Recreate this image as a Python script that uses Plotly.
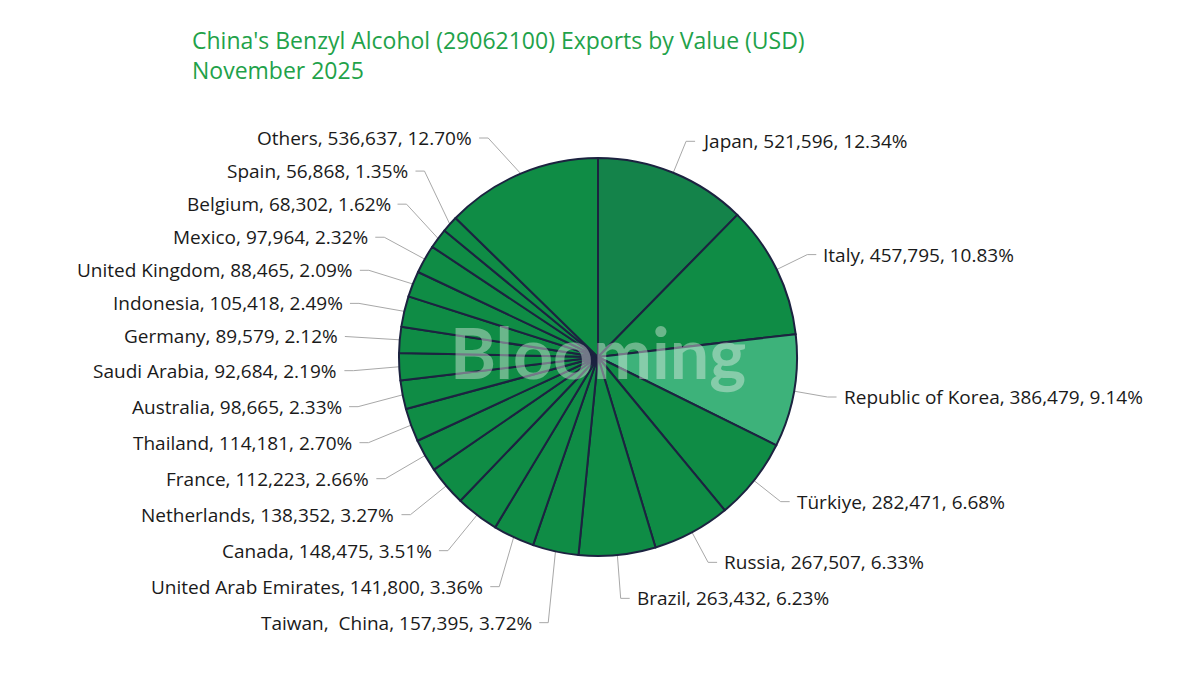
import math
import plotly.graph_objects as go

# ---------------- data ----------------
countries = ["Japan", "Italy", "Republic of Korea", "Türkiye", "Russia", "Brazil",
             "Taiwan,\u00a0 China", "United Arab Emirates", "Canada", "Netherlands",
             "France", "Thailand", "Australia", "Saudi Arabia", "Germany", "Indonesia",
             "United Kingdom", "Mexico", "Belgium", "Spain", "Others"]
values = [521596, 457795, 386479, 282471, 267507, 263432, 157395, 141800, 148475,
          138352, 112223, 114181, 98665, 92684, 89579, 105418, 88465, 97964, 68302,
          56868, 536637]
shares = [12.34, 10.83, 9.14, 6.68, 6.33, 6.23, 3.72, 3.36, 3.51, 3.27, 2.66, 2.70,
          2.33, 2.19, 2.12, 2.49, 2.09, 2.32, 1.62, 1.35, 12.70]

title_line1 = "China's Benzyl Alcohol (29062100) Exports by Value (USD)"
title_line2 = "November 2025"

# ---------------- style ----------------
W, H = 1200, 674
cx, cy, r = 598, 357, 199
BASE = "#0f8c45"
slice_colors = [BASE] * len(values)
slice_colors[0] = "#14834a"   # Japan
slice_colors[2] = "#3db27a"   # Korea
BORDER = "#1c2340"
LEADER = "#a8a8a8"
TXT = "#1a1a1a"
FONT = "Open Sans"
FS = 19

R0 = 233        # natural label radius
GAP = 36        # min vertical spacing of labels
YMIN, YMAX = 138, 640
RS = {-1: 245, 1: 233}
LEN2 = 9
TGAP = 5

labels_txt = [f"{c}, {v:,}, {s:.2f}%" for c, v, s in zip(countries, values, shares)]

# ---------------- label layout (computed from data) ----------------
total = float(sum(values))
items = []
acc = 0.0
for i, v in enumerate(values):
    mid = (acc + v / 2) / total * 2 * math.pi
    acc += v
    sx, sy = math.sin(mid), -math.cos(mid)
    items.append(dict(i=i, sx=sx, sy=sy,
                      nx=cx + R0 * sx, ny=cy + R0 * sy,
                      side=1 if sx >= 0 else -1))

def layout_side(its):
    for it in its:
        it["y"] = it["ny"]
    upper = sorted([t for t in its if t["ny"] < cy], key=lambda d: -d["ny"])
    lower = sorted([t for t in its if t["ny"] >= cy], key=lambda d: d["ny"])
    if upper and lower and lower[0]["y"] - upper[0]["y"] < GAP:
        d = (GAP - (lower[0]["y"] - upper[0]["y"])) / 2
        upper[0]["y"] -= d
        lower[0]["y"] += d
    for k in range(1, len(upper)):
        upper[k]["y"] = min(upper[k]["y"], upper[k - 1]["y"] - GAP)
    for k in range(1, len(lower)):
        lower[k]["y"] = max(lower[k]["y"], lower[k - 1]["y"] + GAP)
    if upper and upper[-1]["y"] < YMIN:
        f = (cy - YMIN) / (cy - upper[-1]["y"])
        for t in upper:
            t["y"] = cy - (cy - t["y"]) * f
    if lower and lower[-1]["y"] > YMAX:
        f = (YMAX - cy) / (lower[-1]["y"] - cy)
        for t in lower:
            t["y"] = cy + (t["y"] - cy) * f

for s in (-1, 1):
    layout_side([t for t in items if t["side"] == s])

lx, ly = [], []
annotations = []
for t in items:
    s = t["side"]
    dy = t["y"] - cy
    dxn = abs(t["nx"] - cx)
    dxc = math.sqrt(max(RS[s] ** 2 - dy ** 2, 0))
    bx = cx + s * max(dxn, dxc)
    ex, ey = cx + r * t["sx"], cy + r * t["sy"]
    endx = bx + s * LEN2
    lx += [ex, bx, endx, None]
    ly += [ey, t["y"], t["y"], None]
    annotations.append(dict(
        x=endx + s * TGAP, y=t["y"], xref="x", yref="y",
        text=labels_txt[t["i"]], showarrow=False,
        xanchor="left" if s > 0 else "right", yanchor="middle",
        font=dict(family=FONT, size=FS, color=TXT)))

# ---------------- figure ----------------
fig = go.Figure()
fig.add_trace(go.Scatter(x=lx, y=ly, mode="lines",
                         line=dict(color=LEADER, width=1),
                         hoverinfo="skip", showlegend=False))
fig.add_trace(go.Pie(
    labels=countries, values=values, sort=False, direction="clockwise",
    rotation=0, textinfo="none", hoverinfo="label+value+percent",
    marker=dict(colors=slice_colors, line=dict(color=BORDER, width=2)),
    domain=dict(x=[(cx - r) / W, (cx + r) / W], y=[1 - (cy + r) / H, 1 - (cy - r) / H]),
    showlegend=False))

annotations.append(dict(
    x=598, y=352, xref="x", yref="y", text="Blooming", showarrow=False,
    xanchor="center", yanchor="middle",
    font=dict(family="Lato", size=70, color="rgba(235,240,236,0.42)", weight="bold")))
annotations.append(dict(
    x=190, y=22, xref="x", yref="y",
    text=title_line1 + "<br>" + title_line2, showarrow=False, align="left",
    xanchor="left", yanchor="top",
    font=dict(family=FONT, size=23, color="#1fa24a")))

fig.update_layout(
    width=W, height=H, margin=dict(l=0, r=0, t=0, b=0),
    paper_bgcolor="white", plot_bgcolor="white",
    xaxis=dict(range=[0, W], visible=False, fixedrange=True, domain=[0, 1]),
    yaxis=dict(range=[H, 0], visible=False, fixedrange=True, domain=[0, 1]),
    annotations=annotations, showlegend=False)

fig.write_html("out.html")
